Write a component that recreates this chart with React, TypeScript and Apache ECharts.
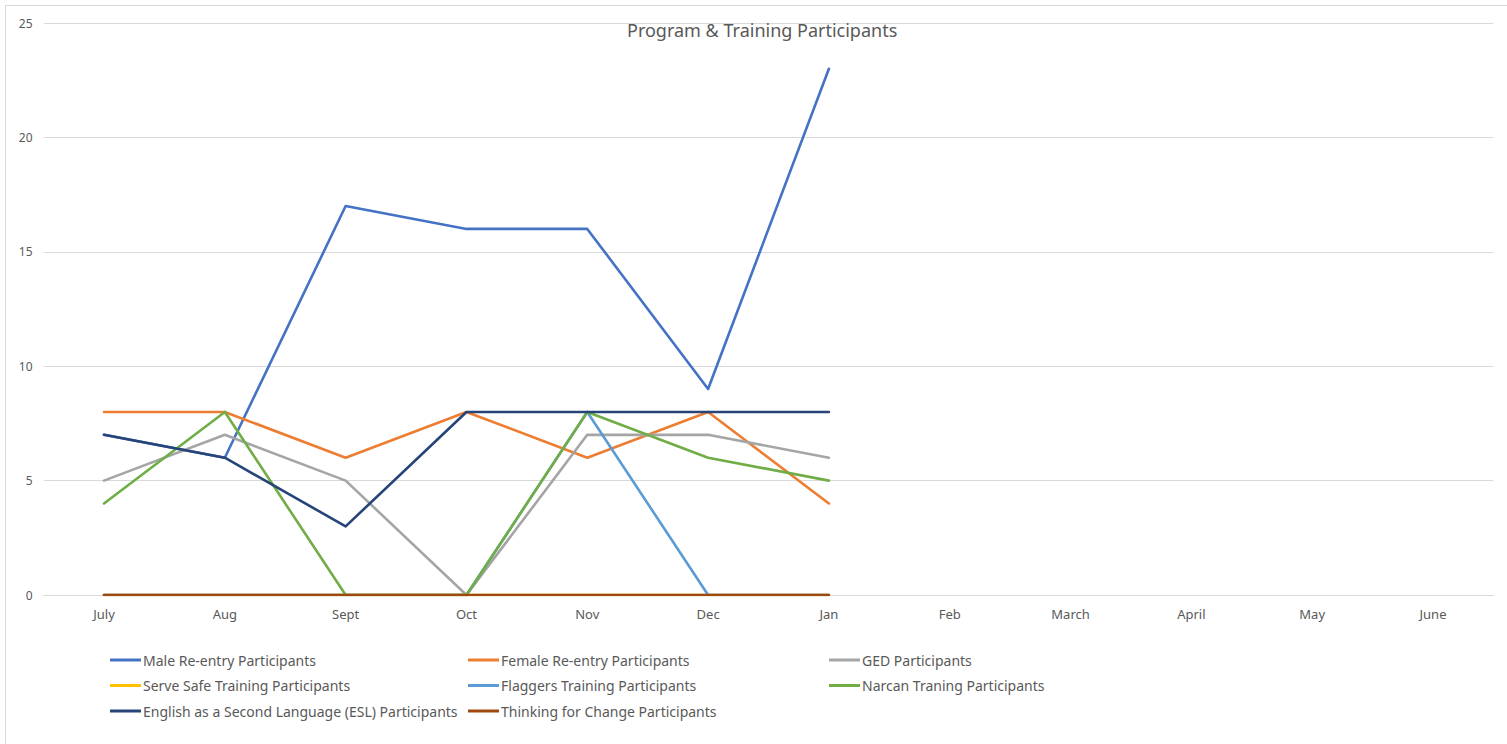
import React, { useEffect, useRef } from "react";
import * as echarts from "echarts";

const months = ["July", "Aug", "Sept", "Oct", "Nov", "Dec", "Jan", "Feb", "March", "April", "May", "June"];
const maleReentry = [7, 6, 17, 16, 16, 9, 23];
const femaleReentry = [8, 8, 6, 8, 6, 8, 4];
const ged = [5, 7, 5, 0, 7, 7, 6];
const serveSafe = [0, 0, 0, 0, 0, 0, 0];
const flaggers = [0, 0, 0, 0, 8, 0, 0];
const narcan = [4, 8, 0, 0, 8, 6, 5];
const esl = [7, 6, 3, 8, 8, 8, 8];
const thinkingForChange = [0, 0, 0, 0, 0, 0, 0];

const seriesDefs = [
  { name: "Male Re-entry Participants", data: maleReentry, color: "#4472C4" },
  { name: "Female Re-entry Participants", data: femaleReentry, color: "#ED7D31" },
  { name: "GED Participants", data: ged, color: "#A5A5A5" },
  { name: "Serve Safe Training Participants", data: serveSafe, color: "#FFC000" },
  { name: "Flaggers Training Participants", data: flaggers, color: "#5B9BD5" },
  { name: "Narcan Traning Participants", data: narcan, color: "#70AD47" },
  { name: "English as a Second Language (ESL) Participants", data: esl, color: "#264478" },
  { name: "Thinking for Change Participants", data: thinkingForChange, color: "#9E480E" },
];

const FONT = "'Noto Sans', sans-serif";
const TEXT_COLOR = "#595959";

export default function App() {
  const ref = useRef<HTMLDivElement>(null);
  useEffect(() => {
    if (!ref.current) return;
    const chart = echarts.init(ref.current, undefined, { renderer: "svg" });
    const legendBase = {
      orient: "vertical" as const,
      top: 653,
      itemWidth: 31,
      itemHeight: 3,
      itemGap: 11.5,
      icon: "rect",
      padding: 0,
      textStyle: { fontFamily: FONT, fontSize: 14, color: TEXT_COLOR, padding: [0, 0, 0, -3] },
    };
    chart.setOption({
      animation: false,
      backgroundColor: "transparent",
      title: {
        text: "Program & Training Participants",
        left: 627,
        top: 21,
        padding: 0,
        textStyle: { fontFamily: FONT, fontSize: 18, fontWeight: "normal", color: TEXT_COLOR },
      },
      legend: [
        { ...legendBase, left: 110, data: [seriesDefs[0].name, seriesDefs[3].name, seriesDefs[6].name] },
        { ...legendBase, left: 468, data: [seriesDefs[1].name, seriesDefs[4].name, seriesDefs[7].name] },
        { ...legendBase, left: 829, data: [seriesDefs[2].name, seriesDefs[5].name] },
      ],
      grid: { left: 43.6, right: 13.6, top: 23, bottom: 149, containLabel: false },
      xAxis: {
        type: "category",
        data: months,
        boundaryGap: true,
        axisLine: { lineStyle: { color: "#D9D9D9", width: 1 } },
        axisTick: { show: false },
        axisLabel: { fontFamily: FONT, fontSize: 13, color: TEXT_COLOR, margin: 12 },
      },
      yAxis: {
        type: "value",
        min: 0,
        max: 25,
        interval: 5,
        axisLine: { show: false },
        axisTick: { show: false },
        splitLine: { lineStyle: { color: "#D9D9D9", width: 1 } },
        axisLabel: { fontFamily: FONT, fontSize: 12, color: TEXT_COLOR, margin: 11 },
      },
      series: seriesDefs.map((s) => ({
        name: s.name,
        type: "line",
        data: s.data,
        color: s.color,
        showSymbol: false,
        symbol: "none",
        lineStyle: { width: 2.6, color: s.color, cap: "round", join: "round" },
        itemStyle: { color: s.color },
      })),
    });
    return () => chart.dispose();
  }, []);
  return (
    <div style={{ position: "absolute", left: 0, top: 0, width: 1507, height: 744, background: "#fff", overflow: "hidden" }}>
      <div style={{ position: "absolute", left: 5, top: 5, width: 1600, height: 800, border: "1px solid #D9D9D9", boxSizing: "border-box" }} />
      <div ref={ref} style={{ position: "absolute", left: 0, top: 0, width: 1507, height: 744 }} />
    </div>
  );
}
